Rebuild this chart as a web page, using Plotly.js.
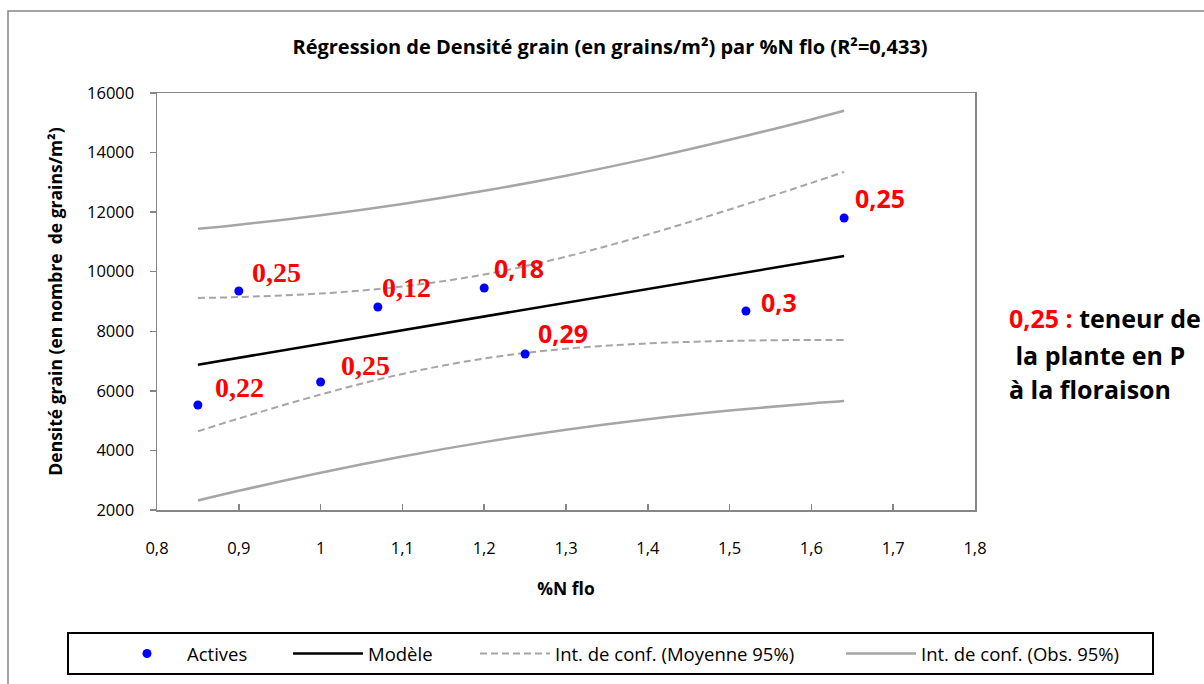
<!DOCTYPE html>
<html>
<head>
<meta charset="utf-8">
<script src="https://cdn.plot.ly/plotly-3.0.1.min.js"></script>
<style>html,body{margin:0;padding:0;background:#fff;}#chart{width:1204px;height:684px;}</style>
</head>
<body>
<div id="chart"></div>
<script>
// Observed points (%N flo, grain density)
var xPts = [0.85, 0.9, 1.0, 1.07, 1.2, 1.25, 1.52, 1.64];
var yPts = [5525, 9353, 6298, 8816, 9454, 7238, 8682, 11804];
var pLabels = ['0,22', '0,25', '0,25', '0,12', '0,18', '0,29', '0,3', '0,25'];

// Model and confidence intervals
var xCurve = [0.85, 0.9, 1.0, 1.1, 1.2, 1.3, 1.4, 1.5, 1.6, 1.64];
var model  = [6880, 7111, 7573, 8035, 8497, 8959, 9421, 9883, 10345, 10530];
var meanUp = [9118, 9150, 9269, 9502, 9908, 10504, 11250, 12089, 12981, 13350];
var meanLo = [4642, 5072, 5877, 6568, 7086, 7414, 7592, 7677, 7709, 7710];
var obsUp  = [11441, 11578, 11894, 12272, 12715, 13223, 13796, 14428, 15113, 15402];
var obsLo  = [2319, 2644, 3252, 3798, 4279, 4695, 5046, 5338, 5577, 5658];

var xTicks = [0.8, 0.9, 1, 1.1, 1.2, 1.3, 1.4, 1.5, 1.6, 1.7, 1.8];
var yTicks = [2000, 4000, 6000, 8000, 10000, 12000, 14000, 16000];

var titleText = 'Régression de Densité grain (en grains/m²) par %N flo (R²=0,433)';
var xTitle = '%N flo';
var yTitle = 'Densité grain (en nombre  de grains/m²)';
var legendNames = ['Actives', 'Modèle', 'Int. de conf. (Moyenne 95%)', 'Int. de conf. (Obs. 95%)'];
var noteLines = ['<span style="color:#FF0000">0,25 :</span> teneur de', '\u00a0la plante en P', 'à la floraison'];

// label styling (separate from data)
var labelSerif = [true, true, true, true, false, false, false, false];
var labelShift = [[15, 18], [11, 18], [18, 16], [2, 19], [8, 20], [11, 21], [13, 9], [9, 20]];

var FONT = 'Open Sans, Liberation Sans, sans-serif';
var GRAY = '#A6A6A6';

var traces = [
  {x: xCurve, y: obsUp, mode: 'lines', name: legendNames[3], legendgroup: 'obs', legend: 'legend4',
   line: {color: GRAY, width: 2.5, shape: 'spline'}, hoverinfo: 'skip'},
  {x: xCurve, y: obsLo, mode: 'lines', name: legendNames[3], legendgroup: 'obs', legend: 'legend4', showlegend: false,
   line: {color: GRAY, width: 2.5, shape: 'spline'}, hoverinfo: 'skip'},
  {x: xCurve, y: meanUp, mode: 'lines', name: legendNames[2], legendgroup: 'mean', legend: 'legend3',
   line: {color: GRAY, width: 2, dash: '7px,4px', shape: 'spline'}, hoverinfo: 'skip'},
  {x: xCurve, y: meanLo, mode: 'lines', name: legendNames[2], legendgroup: 'mean', legend: 'legend3', showlegend: false,
   line: {color: GRAY, width: 2, dash: '7px,4px', shape: 'spline'}, hoverinfo: 'skip'},
  {x: xCurve, y: model, mode: 'lines', name: legendNames[1], legend: 'legend2',
   line: {color: '#000000', width: 2.5}},
  {x: xPts, y: yPts, mode: 'markers', name: legendNames[0], legend: 'legend',
   marker: {color: '#0000FF', size: 9}}
];

var annotations = pLabels.map(function (t, i) {
  return {
    x: xPts[i], y: yPts[i], xref: 'x', yref: 'y', text: t, showarrow: false,
    xanchor: 'left', yanchor: 'middle', xshift: labelShift[i][0], yshift: labelShift[i][1],
    font: labelSerif[i]
      ? {family: 'Liberation Serif, serif', size: 28, color: '#FF0000', weight: 'bold'}
      : {family: FONT, size: 25, color: '#FF0000', weight: 'bold'}
  };
});

var noteY = [318, 355, 389];
var noteX = [1007, 1007, 1007];
noteLines.forEach(function (t, i) {
  annotations.push({
    xref: 'paper', yref: 'paper',
    x: (noteX[i] - 157) / 818, y: (510 - noteY[i]) / 417,
    xanchor: 'left', yanchor: 'middle', showarrow: false, text: t,
    font: {family: FONT, size: 25, color: '#000000', weight: 'bold'}
  });
});

function mkLegend(px) {
  return {
    orientation: 'h', xref: 'container', yref: 'container',
    x: px / 1204, xanchor: 'left', y: 1 - 654 / 684, yanchor: 'middle',
    borderwidth: 0, bgcolor: 'rgba(0,0,0,0)',
    font: {family: FONT, size: 18.5, color: '#000000'},
    itemwidth: 70
  };
}

var layout = {
  width: 1204, height: 684,
  margin: {l: 157, r: 229, t: 93, b: 174, pad: 0},
  paper_bgcolor: '#FFFFFF', plot_bgcolor: '#FFFFFF',
  separators: ', ',
  showlegend: true,
  font: {family: FONT, size: 16, color: '#000000'},
  title: {
    text: titleText, xref: 'container', yref: 'container',
    x: 610 / 1204, xanchor: 'center', y: 1 - 47 / 684, yanchor: 'middle',
    font: {family: FONT, size: 20, color: '#000000', weight: 'bold'}
  },
  xaxis: {
    range: [0.8, 1.8], tickvals: xTicks, tickformat: '.1~f',
    showgrid: false, zeroline: false,
    showline: true, linecolor: '#868686', linewidth: 1.5, mirror: true,
    ticks: 'inside', ticklen: 6, tickcolor: '#868686', tickwidth: 1.5,
    ticklabelstandoff: 23,
    tickfont: {family: FONT, size: 16.5, color: '#000000'},
    title: {text: xTitle, standoff: 24, font: {family: FONT, size: 17.5, color: '#000000', weight: 'bold'}}
  },
  yaxis: {
    range: [2000, 16000], tickvals: yTicks, tickformat: 'd',
    showgrid: false, zeroline: false,
    showline: true, linecolor: '#868686', linewidth: 1.5, mirror: true,
    ticks: 'outside', ticklen: 6, tickcolor: '#868686', tickwidth: 1.5,
    ticklabelstandoff: 12,
    tickfont: {family: FONT, size: 16.5, color: '#000000'},
    title: {text: yTitle, standoff: 20, font: {family: FONT, size: 17.5, color: '#000000', weight: 'bold'}}
  },
  legend: mkLegend(107),
  legend2: mkLegend(288),
  legend3: mkLegend(475),
  legend4: mkLegend(841),
  shapes: [
    {type: 'rect', xref: 'paper', yref: 'paper',
     x0: (8 - 157) / 818, x1: 1.4, y0: -0.45, y1: (510 - 11) / 417,
     line: {color: '#868686', width: 1.5}, fillcolor: 'rgba(0,0,0,0)', layer: 'below'},
    {type: 'rect', xref: 'paper', yref: 'paper',
     x0: (68 - 157) / 818, x1: (1153 - 157) / 818, y0: (510 - 674) / 417, y1: (510 - 633) / 417,
     line: {color: '#000000', width: 2}, fillcolor: 'rgba(0,0,0,0)', layer: 'above'}
  ],
  annotations: annotations
};

Plotly.newPlot('chart', traces, layout, {displayModeBar: false, staticPlot: true});
</script>
</body>
</html>
